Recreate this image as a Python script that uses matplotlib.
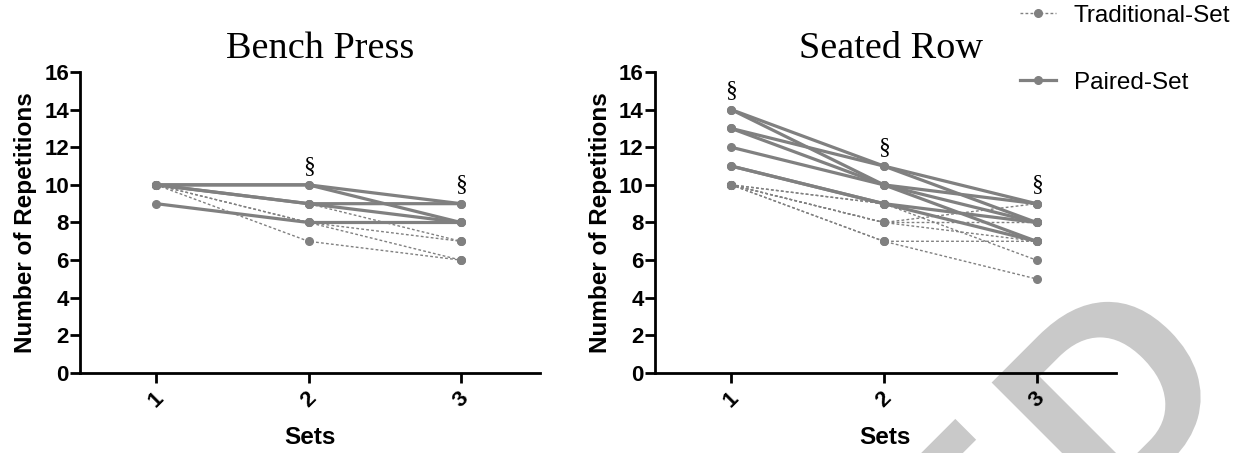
import numpy as np
import matplotlib
matplotlib.use('Agg')
import matplotlib.pyplot as plt
from matplotlib.lines import Line2D
from matplotlib.textpath import TextPath
from matplotlib.patches import PathPatch
from matplotlib.font_manager import FontProperties
from matplotlib.transforms import Affine2D

plt.rcParams['font.family'] = ['Liberation Sans', 'DejaVu Sans']

# Datos (repeticiones por serie, un sujeto por fila)
sets = [1, 2, 3]
bench_traditional = [[10, 9, 7], [10, 8, 7], [10, 8, 6], [10, 7, 6]]
bench_paired = [[10, 10, 9], [10, 10, 8], [10, 9, 9], [10, 9, 8], [9, 8, 8]]
row_traditional = [[10, 9, 6], [10, 8, 9], [10, 8, 8], [10, 8, 7],
                   [10, 7, 7], [10, 7, 5], [10, 9, 8]]
row_paired = [[14, 11, 9], [14, 10, 8], [13, 11, 8], [13, 10, 9],
              [12, 10, 7], [11, 9, 8], [11, 9, 7]]
bench_sig = [2, 3]   # series con diferencia significativa
row_sig = [1, 2, 3]
yticks = np.arange(0, 17, 2)

gris = '#808080'
trad_style = dict(color=gris, lw=1.0, ls=(0, (2, 1.6)), marker='o', ms=5.5, mec=gris, mfc=gris)
pair_style = dict(color=gris, lw=2.3, ls='-', marker='o', ms=5.5, mec=gris, mfc=gris)

fig = plt.figure(figsize=(12.45, 4.53), dpi=100)
fig.patch.set_facecolor('white')

# Marca de agua gris del fondo (letras rotadas 45 grados, en pixeles)
fp = FontProperties(family='Liberation Sans', weight='bold')
tam = 265
origen_d = np.array([1108.0, -71.0])
base = np.array([0.7071, 0.7071])
origen_e = origen_d - (0.667 * tam + 18) * base
for letra, org in [('D', origen_d), ('E', origen_e)]:
    tp = TextPath((0, 0), letra, size=tam, prop=fp)
    tr = Affine2D().rotate_deg(45).translate(*org)
    fig.add_artist(PathPatch(tp, facecolor='#c9c9c9', edgecolor='none', transform=tr, zorder=-1))


def panel(rect, titulo, xt, tradicional, pareado, sig):
    ax = fig.add_axes(rect)
    ax.set_facecolor('none')
    for fila in tradicional:
        ax.plot(sets, fila, **trad_style, zorder=2)
    for fila in pareado:
        ax.plot(sets, fila, **pair_style, zorder=3)
    # simbolo de significancia sobre el valor maximo de cada serie
    todos = np.array(tradicional + pareado)
    for s in sig:
        ax.text(s, todos[:, s - 1].max() + 1.0, '\u00a7', ha='center', va='center',
                fontsize=17, family='Liberation Serif')
    ax.set_xlim(0.5, 3.52)
    ax.set_ylim(0, 16)
    ax.set_yticks(yticks)
    ax.set_xticks(sets)
    ax.set_xticklabels([str(s) for s in sets], rotation=45, fontsize=16, fontweight='bold')
    ax.set_yticklabels([str(v) for v in yticks], fontsize=16, fontweight='bold')
    for lado in ['top', 'right']:
        ax.spines[lado].set_visible(False)
    for lado in ['left', 'bottom']:
        ax.spines[lado].set_linewidth(2.0)
    ax.tick_params(axis='y', direction='out', length=7, width=2, pad=1)
    ax.tick_params(axis='x', direction='out', length=7, width=2, pad=4)
    ax.set_xlabel('Sets', fontsize=17.5, fontweight='bold', labelpad=10)
    ax.set_ylabel('Number of Repetitions', fontsize=17.5, fontweight='bold', labelpad=5)
    ax.set_title(titulo, fontsize=27.5, family='Liberation Serif', pad=10, x=xt)
    return ax


panel([0.0643, 0.1766, 0.3695, 0.6645], 'Bench Press', 0.522, bench_traditional, bench_paired, bench_sig)
panel([0.526, 0.1766, 0.3703, 0.6645], 'Seated Row', 0.512, row_traditional, row_paired, row_sig)

handles = [Line2D([], [], **trad_style), Line2D([], [], **pair_style)]
fig.legend(handles, ['Traditional-Set', 'Paired-Set'], loc='upper left',
           bbox_to_anchor=(1018 / 1245, 0.995), frameon=False, fontsize=17.5,
           handlelength=1.45, handletextpad=0.75, labelspacing=1.85,
           borderpad=0.1, borderaxespad=0)

fig.savefig('out.png', dpi=100, facecolor='white')
